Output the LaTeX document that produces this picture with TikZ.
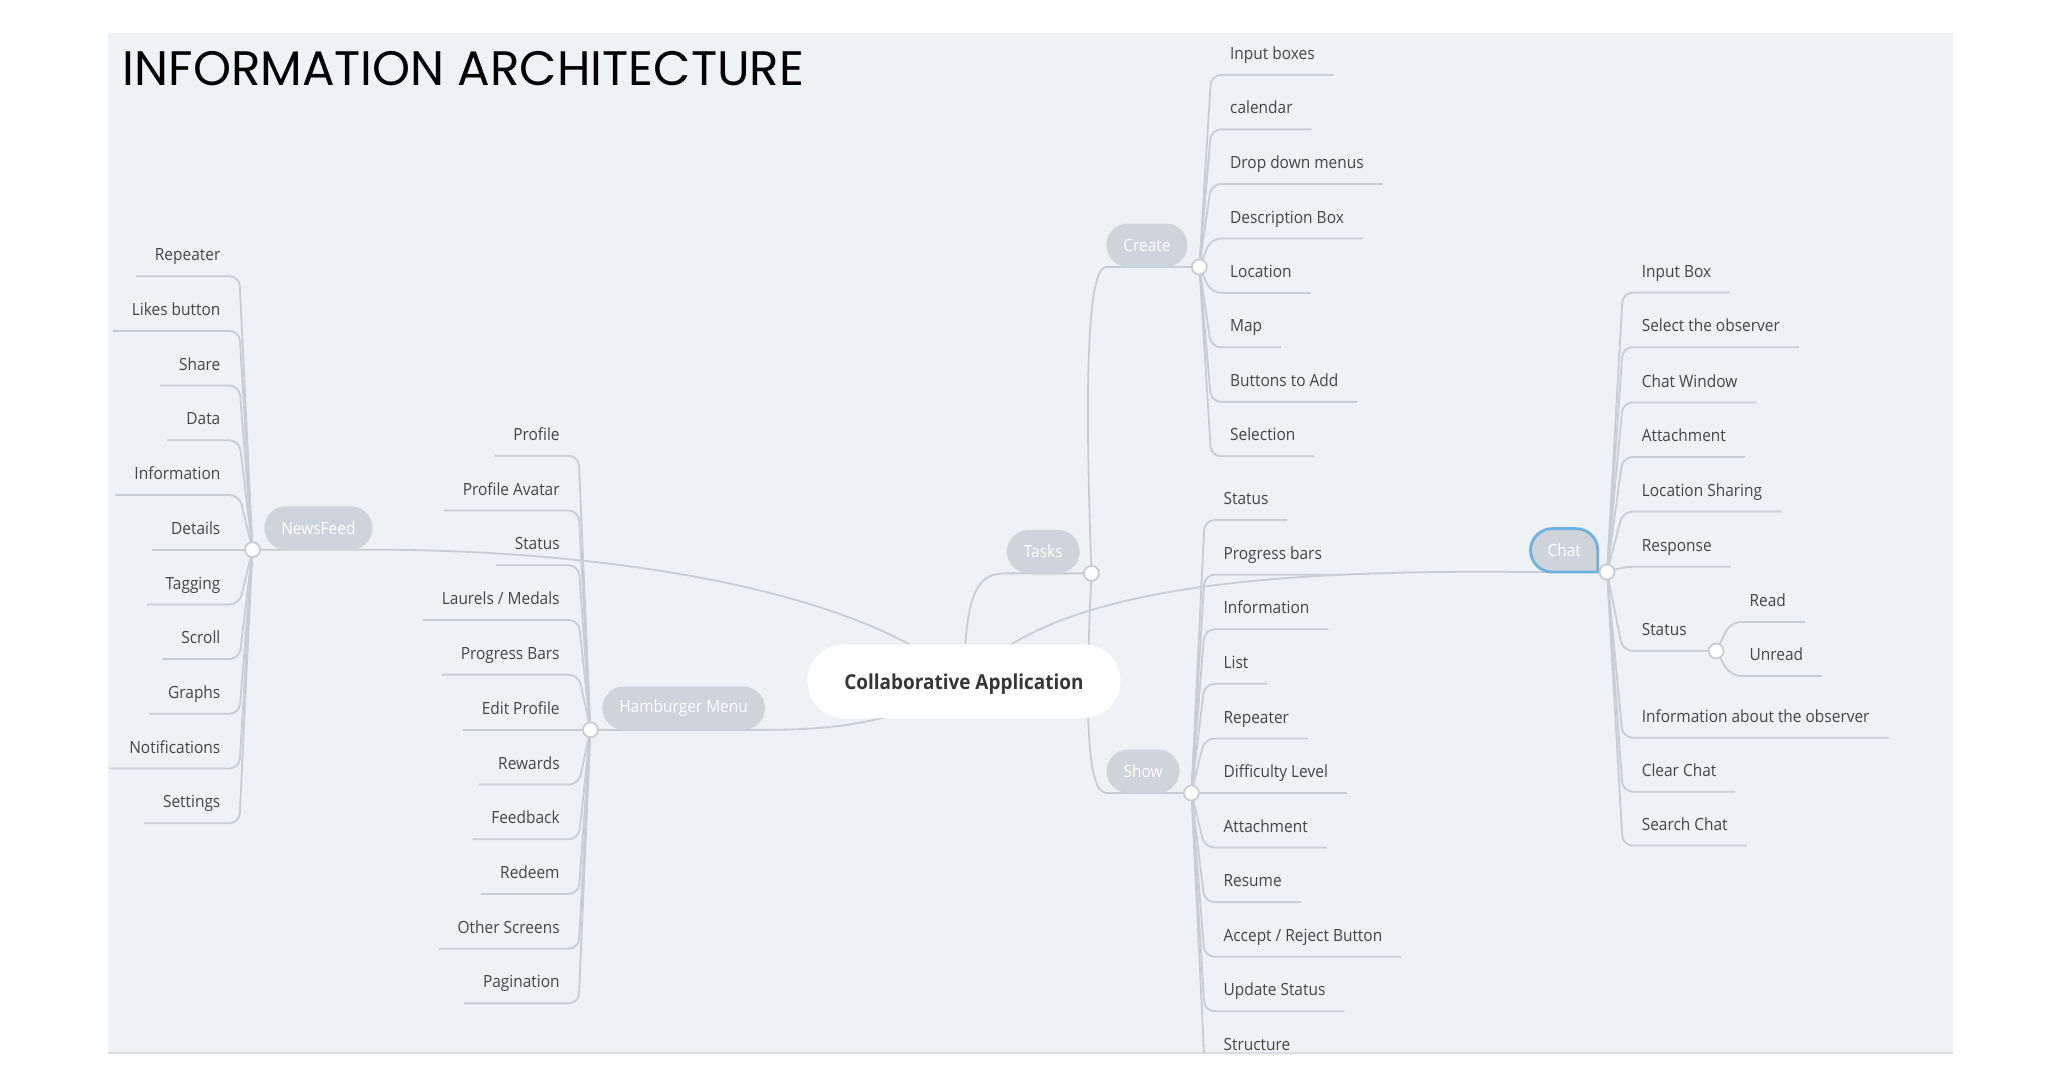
\documentclass[tikz,border=0pt]{standalone}
\usepackage{fontspec}
\usetikzlibrary{calc}
\newfontfamily\lf[FakeStretch=0.92]{Open Sans}
\newfontfamily\tf{Poppins}
\definecolor{panelc}{HTML}{EEF2F4}
\definecolor{linec}{HTML}{C8CDD2}
\definecolor{pillc}{HTML}{CED4D9}
\definecolor{txtc}{HTML}{454545}
\definecolor{ctxt}{HTML}{363636}
\definecolor{chatb}{HTML}{6DB3E2}
\definecolor{shadowc}{HTML}{DADDE0}
\pgfdeclarelayer{back}
\pgfdeclarelayer{lines}
\pgfsetlayers{back,lines,main}
\tikzset{
  conn/.style={draw=linec, line width=0.9pt},
  leafbase/.style={font=\lf\fontsize{8.4}{10}\selectfont, text=txtc, inner xsep=9.5pt, inner ysep=7.7pt, text depth=0pt, outer sep=0pt},
  leafL/.style={leafbase, anchor=south east},
  leafR/.style={leafbase, anchor=south west},
  pill/.style={fill=pillc, text=white, font=\lf\fontsize{8.4}{10}\selectfont, minimum height=21.7pt, inner xsep=8.5pt, inner ysep=1pt, rounded corners=10.85pt, outer sep=0pt},
  pillL/.style={pill, anchor=south west},
  pillR/.style={pill, anchor=south east},
  mainnode/.style={fill=white, text=ctxt, font=\lf\bfseries\fontsize{10.3}{12}\selectfont, minimum height=36.8pt, minimum width=156.5pt, rounded corners=18.4pt, inner sep=0pt, text depth=0pt},
  junc/.style={circle, fill=white, draw=linec, line width=0.9pt, minimum size=7.5pt, inner sep=0pt},
  titlestyle/.style={anchor=base west, font=\tf\fontsize{24.2}{28}\selectfont, inner sep=0pt, text=black}
}
\begin{document}
\begin{tikzpicture}[x=0.6575pt,y=-0.6575pt]
\path[use as bounding box] (0,0) rectangle (1568,823);
\begin{pgfonlayer}{back}
\fill[white] (0,0) rectangle (1568,823);
\fill[panelc] (82,25) rectangle (1485,800);
\draw[shadowc, line width=0.8pt] (82,800.6) -- (1485,800.6);
\end{pgfonlayer}

\node[titlestyle] (title) at (93,65) {INFORMATION ARCHITECTURE};

% junction points
\coordinate (J1) at (192,418);
\coordinate (J2) at (449,555);
\coordinate (J3) at (830,436);
\coordinate (J4) at (912,203);
\coordinate (J5) at (906,603);
\coordinate (J6) at (1222,435);
\coordinate (J7) at (1305,495);

% central node and branch pills
\node[mainnode] (C) at (733,518) {Collaborative Application};
\node[pillL] (NF) at (201,418) {NewsFeed};
\node[pillL] (HM) at (458,555) {Hamburger Menu};
\node[pillR] (TK) at (821,436) {Tasks};
\node[pillR] (CR) at (903,203) {Create};
\node[pillR] (SH) at (897,603) {Show};
\node[pill, fill=none, anchor=south east] (CH) at (1215,435) {Chat};

% NewsFeed leaves
\node[leafL] (nf1) at (182,210) {Repeater};
\node[leafL] (nf2) at (182,251.6) {Likes button};
\node[leafL] (nf3) at (182,293.2) {Share};
\node[leafL] (nf4) at (182,334.8) {Data};
\node[leafL] (nf5) at (182,376.4) {Information};
\node[leafL] (nf6) at (182,418) {Details};
\node[leafL] (nf7) at (182,459.6) {Tagging};
\node[leafL] (nf8) at (182,501.2) {Scroll};
\node[leafL] (nf9) at (182,542.8) {Graphs};
\node[leafL] (nf10) at (182,584.4) {Notifications};
\node[leafL] (nf11) at (182,626) {Settings};

% Hamburger leaves
\node[leafL] (hm1) at (440,346.6) {Profile};
\node[leafL] (hm2) at (440,388.2) {Profile Avatar};
\node[leafL] (hm3) at (440,429.8) {Status};
\node[leafL] (hm4) at (440,471.4) {Laurels / Medals};
\node[leafL] (hm5) at (440,513) {Progress Bars};
\node[leafL] (hm6) at (440,555) {Edit Profile};
\node[leafL] (hm7) at (440,596.6) {Rewards};
\node[leafL] (hm8) at (440,638.2) {Feedback};
\node[leafL] (hm9) at (440,679.8) {Redeem};
\node[leafL] (hm10) at (440,721.4) {Other Screens};
\node[leafL] (hm11) at (440,763) {Pagination};

% Create leaves
\node[leafR] (cr1) at (921,57) {Input boxes};
\node[leafR] (cr2) at (921,98.4) {calendar};
\node[leafR] (cr3) at (921,139.9) {Drop down menus};
\node[leafR] (cr4) at (921,181.3) {Description Box};
\node[leafR] (cr5) at (921,222.7) {Location};
\node[leafR] (cr6) at (921,264.1) {Map};
\node[leafR] (cr7) at (921,305.6) {Buttons to Add};
\node[leafR] (cr8) at (921,347) {Selection};

% Show leaves
\node[leafR] (sh1) at (916,395.5) {Status};
\node[leafR] (sh2) at (916,437) {Progress bars};
\node[leafR] (sh3) at (916,478.5) {Information};
\node[leafR] (sh4) at (916,520) {List};
\node[leafR] (sh5) at (916,561.5) {Repeater};
\node[leafR] (sh6) at (916,603) {Difficulty Level};
\node[leafR] (sh7) at (916,644.5) {Attachment};
\node[leafR] (sh8) at (916,686) {Resume};
\node[leafR] (sh9) at (916,727.5) {Accept / Reject Button};
\node[leafR] (sh10) at (916,769) {Update Status};
\node[leafR] (sh11) at (916,810.5) {Structure};

% Chat leaves
\node[leafR] (ch1) at (1234,222.5) {Input Box};
\node[leafR] (ch2) at (1234,264) {Select the observer};
\node[leafR] (ch3) at (1234,306) {Chat Window};
\node[leafR] (ch4) at (1234,347.5) {Attachment};
\node[leafR] (ch5) at (1234,389) {Location Sharing};
\node[leafR] (ch6) at (1234,431) {Response};
\node[leafR] (chs) at (1234,495) {Status};
\node[leafR] (ch7) at (1234,561) {Information about the observer};
\node[leafR] (ch8) at (1234,602) {Clear Chat};
\node[leafR] (ch9) at (1234,643) {Search Chat};
\node[leafR] (rd1) at (1316,473) {Read};
\node[leafR] (rd2) at (1316,514) {Unread};

\begin{pgfonlayer}{lines}
\begin{scope}
\clip (82,25) rectangle (1485,800);
% main branches
\draw[conn] (C.center) .. controls (650,445) and (450,418) .. (NF.south east) -- (J1);
\draw[conn] (C.center) .. controls (690,548) and (640,555) .. (HM.south east) -- (J2);
\draw[conn] (C.center) .. controls (734,445) and (745,436) .. (TK.south west) -- (J3);
\draw[conn] (C.center) .. controls (790,460) and (900,432) .. (CH.south west) -- (J6);
\draw[conn] (J3) .. controls (825,300) and (826,203) .. (CR.south west) -- (J4);
\draw[conn] (J3) .. controls (825,540) and (826,603) .. (SH.south west) -- (J5);
% leaves
\foreach \n in {nf1,nf2,nf3,nf4,nf5,nf6,nf7,nf8,nf9,nf10,nf11}
  \draw[conn, rounded corners=5pt] (J1) -- (\n.south east) -- (\n.south west);
\foreach \n in {hm1,hm2,hm3,hm4,hm5,hm6,hm7,hm8,hm9,hm10,hm11}
  \draw[conn, rounded corners=5pt] (J2) -- (\n.south east) -- (\n.south west);
\foreach \n in {cr1,cr2,cr3,cr4,cr5,cr6,cr7,cr8}
  \draw[conn, rounded corners=5pt] (J4) -- (\n.south west) -- (\n.south east);
\foreach \n in {sh1,sh2,sh3,sh4,sh5,sh6,sh7,sh8,sh9,sh10,sh11}
  \draw[conn, rounded corners=5pt] (J5) -- (\n.south west) -- (\n.south east);
\foreach \n in {ch1,ch2,ch3,ch4,ch5,ch6,ch7,ch8,ch9}
  \draw[conn, rounded corners=5pt] (J6) -- (\n.south west) -- (\n.south east);
\draw[conn, rounded corners=5pt] (J6) -- (chs.south west) -- (J7);
\foreach \n in {rd1,rd2}
  \draw[conn, rounded corners=5pt] (J7) -- (\n.south west) -- (\n.south east);
\end{scope}
% chat pill with blue outline
\draw[fill=pillc, draw=chatb, line width=1.4pt] (CH.south east) -- ([yshift=-10.85pt]CH.north east) arc[start angle=0, end angle=90, radius=10.85pt] -- ([xshift=10.85pt]CH.north west) arc[start angle=90, end angle=270, radius=10.85pt] -- cycle;
\end{pgfonlayer}

% junction circles
\node[junc] (j1) at (J1) {};
\node[junc] (j2) at (J2) {};
\node[junc] (j3) at (J3) {};
\node[junc] (j4) at (J4) {};
\node[junc] (j5) at (J5) {};
\node[junc] (j6) at (J6) {};
\node[junc] (j7) at (J7) {};
\end{tikzpicture}
\end{document}
